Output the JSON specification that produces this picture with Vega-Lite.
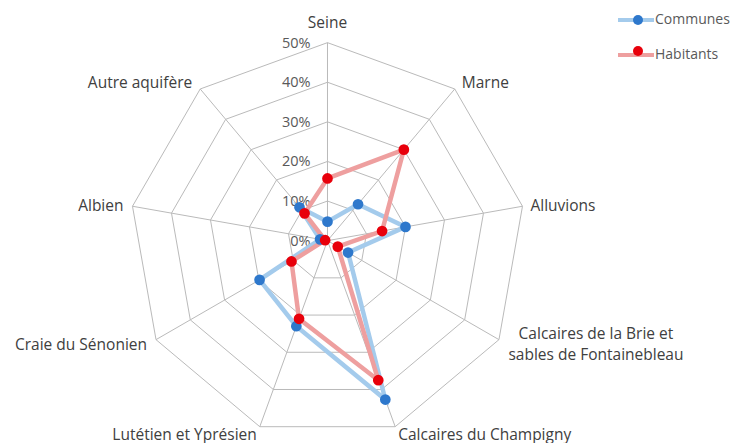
{
  "$schema": "https://vega.github.io/schema/vega-lite/v6.json",
  "width": 731,
  "height": 443,
  "padding": 0,
  "autosize": {"type": "none"},
  "background": "white",
  "config": {"view": {"stroke": null}, "font": "Open Sans"},
  "datasets": {
    "axes": [
      {"i": 0, "name": "Seine"},
      {"i": 1, "name": "Marne"},
      {"i": 2, "name": "Alluvions"},
      {"i": 3, "name": "Calcaires de la Brie et\nsables de Fontainebleau"},
      {"i": 4, "name": "Calcaires du Champigny"},
      {"i": 5, "name": "Lutétien et Yprésien"},
      {"i": 6, "name": "Craie du Sénonien"},
      {"i": 7, "name": "Albien"},
      {"i": 8, "name": "Autre aquifère"}
    ],
    "grid": [
      {"level": 10, "i": 0}, {"level": 10, "i": 1}, {"level": 10, "i": 2}, {"level": 10, "i": 3}, {"level": 10, "i": 4}, {"level": 10, "i": 5}, {"level": 10, "i": 6}, {"level": 10, "i": 7}, {"level": 10, "i": 8},
      {"level": 20, "i": 0}, {"level": 20, "i": 1}, {"level": 20, "i": 2}, {"level": 20, "i": 3}, {"level": 20, "i": 4}, {"level": 20, "i": 5}, {"level": 20, "i": 6}, {"level": 20, "i": 7}, {"level": 20, "i": 8},
      {"level": 30, "i": 0}, {"level": 30, "i": 1}, {"level": 30, "i": 2}, {"level": 30, "i": 3}, {"level": 30, "i": 4}, {"level": 30, "i": 5}, {"level": 30, "i": 6}, {"level": 30, "i": 7}, {"level": 30, "i": 8},
      {"level": 40, "i": 0}, {"level": 40, "i": 1}, {"level": 40, "i": 2}, {"level": 40, "i": 3}, {"level": 40, "i": 4}, {"level": 40, "i": 5}, {"level": 40, "i": 6}, {"level": 40, "i": 7}, {"level": 40, "i": 8},
      {"level": 50, "i": 0}, {"level": 50, "i": 1}, {"level": 50, "i": 2}, {"level": 50, "i": 3}, {"level": 50, "i": 4}, {"level": 50, "i": 5}, {"level": 50, "i": 6}, {"level": 50, "i": 7}, {"level": 50, "i": 8}
    ],
    "ticks": [
      {"level": 0, "label": "0%"},
      {"level": 10, "label": "10%"},
      {"level": 20, "label": "20%"},
      {"level": 30, "label": "30%"},
      {"level": 40, "label": "40%"},
      {"level": 50, "label": "50%"}
    ],
    "series": [
      {"series": "Communes", "i": 0, "value": 4.8},
      {"series": "Communes", "i": 1, "value": 12},
      {"series": "Communes", "i": 2, "value": 20},
      {"series": "Communes", "i": 3, "value": 6},
      {"series": "Communes", "i": 4, "value": 42.7},
      {"series": "Communes", "i": 5, "value": 23},
      {"series": "Communes", "i": 6, "value": 19.8},
      {"series": "Communes", "i": 7, "value": 1.9},
      {"series": "Communes", "i": 8, "value": 11},
      {"series": "Habitants", "i": 0, "value": 15.7},
      {"series": "Habitants", "i": 1, "value": 30},
      {"series": "Habitants", "i": 2, "value": 14},
      {"series": "Habitants", "i": 3, "value": 3},
      {"series": "Habitants", "i": 4, "value": 37.5},
      {"series": "Habitants", "i": 5, "value": 21},
      {"series": "Habitants", "i": 6, "value": 10.5},
      {"series": "Habitants", "i": 7, "value": 0.6},
      {"series": "Habitants", "i": 8, "value": 9}
    ]
  },
  "encoding": {
    "x": {"field": "px", "type": "quantitative", "scale": {"domain": [-82.7, 101.9], "nice": false, "zero": false}, "axis": null},
    "y": {"field": "py", "type": "quantitative", "scale": {"domain": [-51.1, 60.77], "nice": false, "zero": false}, "axis": null}
  },
  "layer": [
    {
      "data": {"name": "grid"},
      "transform": [
        {"calculate": "datum.i * 2 * PI / 9", "as": "ang"},
        {"calculate": "datum.level * sin(datum.ang)", "as": "px"},
        {"calculate": "datum.level * cos(datum.ang)", "as": "py"}
      ],
      "mark": {"type": "line", "interpolate": "linear-closed", "stroke": "#bababa", "strokeWidth": 1},
      "encoding": {
        "detail": {"field": "level", "type": "nominal"},
        "order": {"field": "i", "type": "quantitative"}
      }
    },
    {
      "data": {"name": "axes"},
      "transform": [
        {"calculate": "datum.i * 2 * PI / 9", "as": "ang"},
        {"calculate": "50 * sin(datum.ang)", "as": "px"},
        {"calculate": "50 * cos(datum.ang)", "as": "py"}
      ],
      "mark": {"type": "rule", "stroke": "#bababa", "strokeWidth": 1},
      "encoding": {
        "x": {"datum": 0, "type": "quantitative"},
        "y": {"datum": 0, "type": "quantitative"},
        "x2": {"field": "px"},
        "y2": {"field": "py"}
      }
    },
    {
      "data": {"name": "ticks"},
      "transform": [
        {"calculate": "0", "as": "px"},
        {"calculate": "datum.level", "as": "py"}
      ],
      "mark": {"type": "text", "align": "right", "baseline": "middle", "dx": -17, "dy": 1, "fontSize": 14.5, "fill": "#595959"},
      "encoding": {"text": {"field": "label"}}
    },
    {
      "data": {"name": "series"},
      "transform": [
        {"calculate": "datum.i * 2 * PI / 9", "as": "ang"},
        {"calculate": "datum.value * sin(datum.ang)", "as": "px"},
        {"calculate": "datum.value * cos(datum.ang)", "as": "py"}
      ],
      "mark": {"type": "line", "interpolate": "linear-closed", "strokeWidth": 4.5},
      "encoding": {
        "stroke": {
          "field": "series", "type": "nominal",
          "scale": {"domain": ["Habitants", "Communes"], "range": ["#ee9f9f", "#a4cbec"]},
          "legend": {
            "title": null, "orient": "none", "legendX": 629, "legendY": 13,
            "values": ["Communes", "Habitants"],
            "symbolType": "M-3.6,0H3.6", "symbolSize": 100, "symbolStrokeWidth": 4,
            "labelFontSize": 14, "labelColor": "#595959", "labelOffset": 12, "rowPadding": 19, "padding": 0
          }
        },
        "order": {"field": "i", "type": "quantitative"}
      }
    },
    {
      "data": {"name": "series"},
      "transform": [
        {"calculate": "datum.i * 2 * PI / 9", "as": "ang"},
        {"calculate": "datum.value * sin(datum.ang)", "as": "px"},
        {"calculate": "datum.value * cos(datum.ang)", "as": "py"}
      ],
      "mark": {"type": "point", "filled": true, "shape": "circle", "size": 115, "opacity": 1},
      "encoding": {
        "fill": {
          "field": "series", "type": "nominal",
          "scale": {"domain": ["Communes", "Habitants"], "range": ["#2e78cc", "#e8000b"]},
          "legend": {
            "title": null, "orient": "none", "legendX": 631, "legendY": 13,
            "symbolType": "circle", "symbolSize": 100, "symbolStrokeWidth": 4, "symbolStrokeColor": "transparent",
            "labelFontSize": 14, "labelExpr": "''", "labelOffset": 12, "rowPadding": 5, "padding": 0
          }
        }
      }
    },
    {
      "data": {"name": "axes"},
      "transform": [
        {"filter": "datum.i == 0"},
        {"calculate": "datum.i * 2 * PI / 9", "as": "ang"},
        {"calculate": "50 * sin(datum.ang)", "as": "px"},
        {"calculate": "50 * cos(datum.ang)", "as": "py"}
      ],
      "mark": {"type": "text", "align": "center", "baseline": "alphabetic", "dy": -15, "fontSize": 15.5, "fill": "#404040"},
      "encoding": {"text": {"field": "name"}}
    },
    {
      "data": {"name": "axes"},
      "transform": [
        {"filter": "datum.i == 1"},
        {"calculate": "datum.i * 2 * PI / 9", "as": "ang"},
        {"calculate": "50 * sin(datum.ang)", "as": "px"},
        {"calculate": "50 * cos(datum.ang)", "as": "py"}
      ],
      "mark": {"type": "text", "align": "left", "baseline": "middle", "dx": 7, "dy": -6, "fontSize": 15.5, "fill": "#404040"},
      "encoding": {"text": {"field": "name"}}
    },
    {
      "data": {"name": "axes"},
      "transform": [
        {"filter": "datum.i == 2"},
        {"calculate": "datum.i * 2 * PI / 9", "as": "ang"},
        {"calculate": "50 * sin(datum.ang)", "as": "px"},
        {"calculate": "50 * cos(datum.ang)", "as": "py"}
      ],
      "mark": {"type": "text", "align": "left", "baseline": "middle", "dx": 8, "dy": 0, "fontSize": 15.5, "fill": "#404040"},
      "encoding": {"text": {"field": "name"}}
    },
    {
      "data": {"name": "axes"},
      "transform": [
        {"filter": "datum.i == 3"},
        {"calculate": "datum.i * 2 * PI / 9", "as": "ang"},
        {"calculate": "50 * sin(datum.ang)", "as": "px"},
        {"calculate": "50 * cos(datum.ang)", "as": "py"}
      ],
      "mark": {"type": "text", "align": "center", "baseline": "middle", "dx": 97, "dy": -6, "fontSize": 15.5, "fill": "#404040", "lineBreak": "\n", "lineHeight": 21},
      "encoding": {"text": {"field": "name"}}
    },
    {
      "data": {"name": "axes"},
      "transform": [
        {"filter": "datum.i == 4"},
        {"calculate": "datum.i * 2 * PI / 9", "as": "ang"},
        {"calculate": "50 * sin(datum.ang)", "as": "px"},
        {"calculate": "50 * cos(datum.ang)", "as": "py"}
      ],
      "mark": {"type": "text", "align": "left", "baseline": "middle", "dx": 3, "dy": 8, "fontSize": 15.5, "fill": "#404040"},
      "encoding": {"text": {"field": "name"}}
    },
    {
      "data": {"name": "axes"},
      "transform": [
        {"filter": "datum.i == 5"},
        {"calculate": "datum.i * 2 * PI / 9", "as": "ang"},
        {"calculate": "50 * sin(datum.ang)", "as": "px"},
        {"calculate": "50 * cos(datum.ang)", "as": "py"}
      ],
      "mark": {"type": "text", "align": "right", "baseline": "middle", "dx": -3, "dy": 8, "fontSize": 15.5, "fill": "#404040"},
      "encoding": {"text": {"field": "name"}}
    },
    {
      "data": {"name": "axes"},
      "transform": [
        {"filter": "datum.i == 6"},
        {"calculate": "datum.i * 2 * PI / 9", "as": "ang"},
        {"calculate": "50 * sin(datum.ang)", "as": "px"},
        {"calculate": "50 * cos(datum.ang)", "as": "py"}
      ],
      "mark": {"type": "text", "align": "right", "baseline": "middle", "dx": -9, "dy": 5, "fontSize": 15.5, "fill": "#404040"},
      "encoding": {"text": {"field": "name"}}
    },
    {
      "data": {"name": "axes"},
      "transform": [
        {"filter": "datum.i == 7"},
        {"calculate": "datum.i * 2 * PI / 9", "as": "ang"},
        {"calculate": "50 * sin(datum.ang)", "as": "px"},
        {"calculate": "50 * cos(datum.ang)", "as": "py"}
      ],
      "mark": {"type": "text", "align": "right", "baseline": "middle", "dx": -9, "dy": 0, "fontSize": 15.5, "fill": "#404040"},
      "encoding": {"text": {"field": "name"}}
    },
    {
      "data": {"name": "axes"},
      "transform": [
        {"filter": "datum.i == 8"},
        {"calculate": "datum.i * 2 * PI / 9", "as": "ang"},
        {"calculate": "50 * sin(datum.ang)", "as": "px"},
        {"calculate": "50 * cos(datum.ang)", "as": "py"}
      ],
      "mark": {"type": "text", "align": "right", "baseline": "middle", "dx": -8, "dy": -6, "fontSize": 15.5, "fill": "#404040"},
      "encoding": {"text": {"field": "name"}}
    }
  ]
}
